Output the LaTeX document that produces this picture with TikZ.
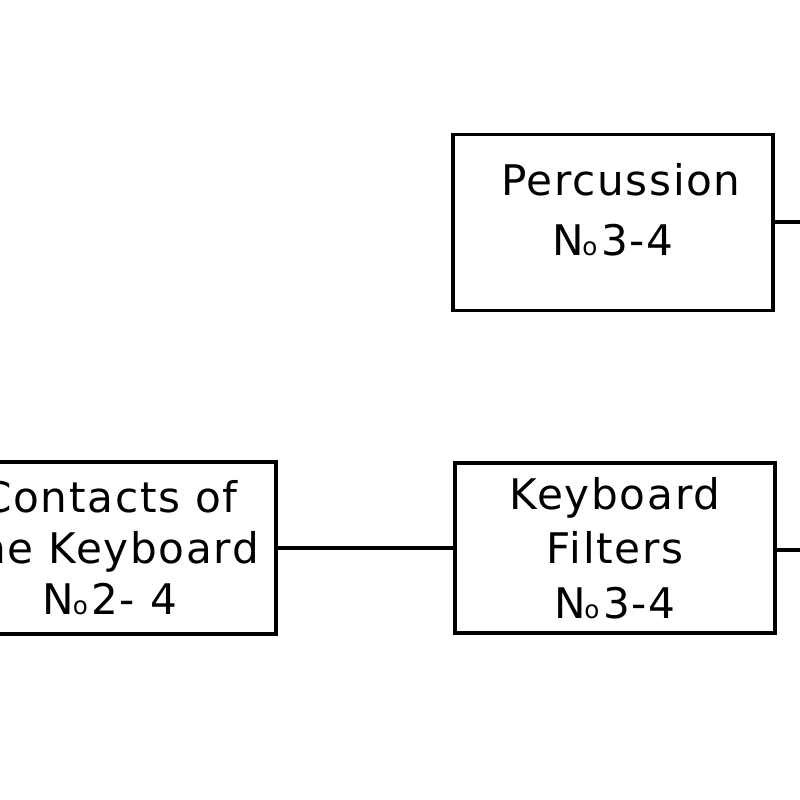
\documentclass[tikz,border=0pt]{standalone}
\usepackage{fontspec}
\setmainfont[LetterSpace=4]{DejaVu Sans}
\newcommand{\Nr}{N\kern-0.5pt{\fontsize{7}{7}\selectfont o}\kern1pt}
\begin{document}
\begin{tikzpicture}[
    block/.style={draw, line width=1.1pt, align=center, inner sep=0pt,
      minimum width=3.2cm, font=\fontsize{12}{15.5}\selectfont},
    wire/.style={line width=1.1pt}
  ]
  \useasboundingbox (0,0) rectangle (8,8);
  \clip (0,0) rectangle (8,8);
  \fill[white] (0,0) rectangle (8,8);
  \node[block, minimum height=1.76cm, font=\fontsize{12}{17}\selectfont] (perc) at (6.13,5.775)
    {\hspace*{4.5pt}Percussion\\\Nr 3-4\rule[-7.4pt]{0pt}{7.4pt}};
  \node[block, minimum height=1.70cm] (filt) at (6.15,2.52)
    {Keyboard\\Filters\\\Nr 3-4};
  \node[block, minimum width=3.32cm, minimum height=1.72cm, font=\fontsize{12}{14.5}\selectfont] (cont) at (1.10,2.52)
    {Contacts of\\the Keyboard\\\Nr 2- 4};
  \coordinate (perc-out) at (8,5.78);
  \coordinate (filt-out) at (8,2.50);
  \draw[wire] (cont.east) -- (filt.west);
  \draw[wire] (perc.east |- perc-out) -- (perc-out);
  \draw[wire] (filt.east |- filt-out) -- (filt-out);
\end{tikzpicture}
\end{document}
